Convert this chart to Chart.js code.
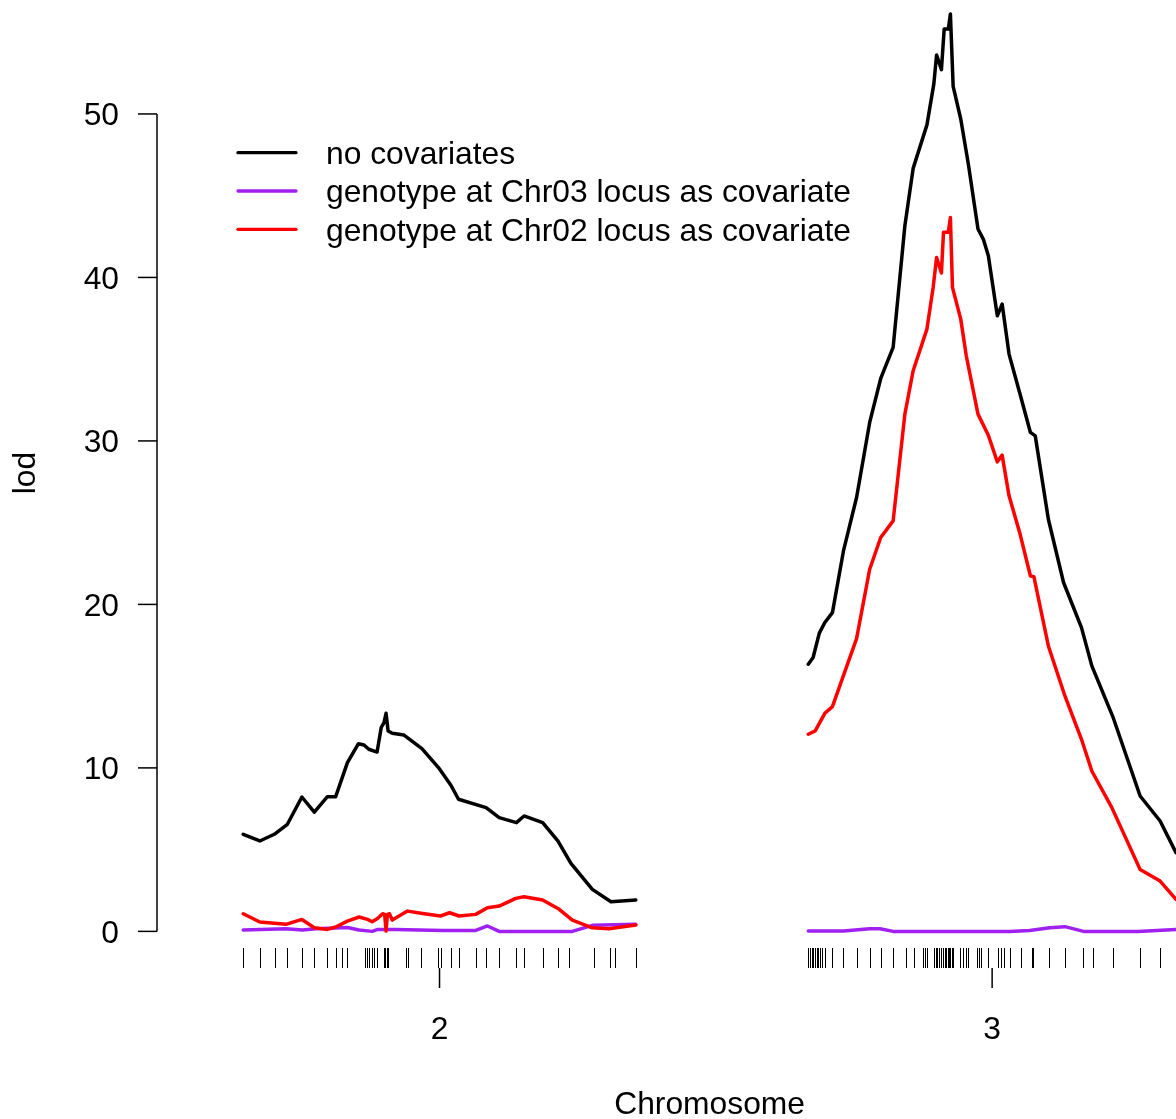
<!DOCTYPE html>
<html>
<head>
<meta charset="utf-8">
<title>LOD profile, chromosomes 2 and 3</title>
<script src="https://cdn.jsdelivr.net/npm/chart.js@4.4.1/dist/chart.umd.min.js"></script>
<style>
  html, body { margin: 0; padding: 0; background: #ffffff; overflow: hidden; }
  #wrap { width: 1176px; height: 1119px; position: relative; }
</style>
</head>
<body>
<div id="wrap"><canvas id="lodChart" width="1176" height="1119"></canvas></div>
<script>
// Chromosomes (cM lengths, gap between them like R/qtl)
const chromosomes = ['2', '3'];
const chrLengths = [56.9, 53.3];
const chrGap = 25;

// Legend / series
const seriesLabels = ['no covariates', 'genotype at Chr03 locus as covariate', 'genotype at Chr02 locus as covariate'];
const seriesColors = ['#000000', '#A020F0', '#FF0000'];

// Y axis ticks
const yTicks = [0, 10, 20, 30, 40, 50];

// Chr 2 - no covariates
const chr2PosNoCov = [0.0, 2.4, 4.5, 6.4, 8.5, 10.3, 12.2, 13.4, 15.1, 16.7, 17.5, 18.2, 19.4, 20.0, 20.4, 20.7, 21.0, 21.6, 23.3, 25.9, 28.3, 30.1, 31.2, 35.2, 37.1, 39.6, 40.7, 43.4, 45.6, 47.5, 50.6, 53.3, 56.9];
const chr2LodNoCov = [5.94, 5.53, 5.94, 6.55, 8.22, 7.30, 8.24, 8.24, 10.32, 11.48, 11.40, 11.14, 10.97, 12.47, 12.77, 13.34, 12.26, 12.12, 12.01, 11.18, 10.02, 8.94, 8.08, 7.57, 6.96, 6.65, 7.06, 6.65, 5.53, 4.16, 2.57, 1.81, 1.92];

// Chr 2 - Chr03 locus as covariate
const chr2PosCov3 = [0.0, 6.2, 8.6, 10.5, 15.1, 16.8, 18.7, 19.5, 22.1, 28.9, 33.7, 35.4, 37.1, 47.7, 50.6, 56.9];
const chr2LodCov3 = [0.08, 0.16, 0.08, 0.16, 0.24, 0.08, 0.0, 0.12, 0.12, 0.06, 0.06, 0.33, 0.0, 0.0, 0.37, 0.43];

// Chr 2 - Chr02 locus as covariate
const chr2PosCov2 = [0.0, 2.4, 6.2, 8.5, 10.3, 12.2, 13.4, 15.1, 16.8, 18.0, 18.7, 19.5, 20.2, 20.5, 20.7, 20.9, 21.2, 21.6, 23.8, 26.0, 28.6, 29.9, 31.3, 33.7, 35.4, 37.1, 39.5, 40.7, 43.4, 45.8, 47.7, 50.6, 53.0, 56.9];
const chr2LodCov2 = [1.08, 0.57, 0.43, 0.73, 0.22, 0.12, 0.27, 0.63, 0.88, 0.73, 0.59, 0.80, 1.08, 1.04, 0.02, 1.04, 1.08, 0.69, 1.24, 1.10, 0.94, 1.14, 0.94, 1.04, 1.45, 1.55, 2.02, 2.12, 1.92, 1.35, 0.69, 0.22, 0.16, 0.39];

// Chr 3 - no covariates
const chr3PosNoCov = [0.0, 0.7, 1.6, 2.4, 3.5, 5.1, 7.0, 8.9, 10.5, 12.3, 14.0, 15.2, 17.2, 18.2, 18.6, 19.3, 19.7, 20.3, 20.6, 21.0, 22.1, 23.2, 24.6, 25.4, 26.1, 27.4, 28.1, 29.1, 30.7, 32.2, 32.9, 34.8, 37.0, 39.6, 41.1, 44.2, 48.1, 51.0, 53.3];
const chr3LodNoCov = [16.34, 16.75, 18.24, 18.89, 19.50, 23.27, 26.54, 31.13, 33.82, 35.72, 43.16, 46.67, 49.33, 51.84, 53.61, 52.71, 55.20, 55.20, 56.12, 51.69, 49.69, 46.94, 42.96, 42.31, 41.33, 37.65, 38.37, 35.31, 32.86, 30.52, 30.31, 25.21, 21.34, 18.58, 16.24, 13.07, 8.28, 6.75, 4.81];

// Chr 3 - Chr03 locus as covariate
const chr3PosCov3 = [0.0, 5.1, 8.9, 10.4, 12.3, 29.2, 32.1, 35.0, 37.2, 39.9, 47.8, 53.3];
const chr3LodCov3 = [0.02, 0.02, 0.16, 0.16, 0.0, 0.0, 0.06, 0.22, 0.29, 0.0, 0.0, 0.12];

// Chr 3 - Chr02 locus as covariate
const chr3PosCov2 = [0.0, 1.0, 2.4, 3.5, 7.0, 8.9, 10.5, 12.3, 14.0, 15.2, 17.2, 18.1, 18.6, 19.3, 19.6, 20.3, 20.6, 20.9, 22.1, 22.9, 24.6, 26.1, 27.4, 28.1, 29.1, 30.7, 32.2, 32.7, 34.8, 37.2, 39.6, 41.1, 44.0, 48.1, 51.0, 53.3];
const chr3LodCov2 = [12.06, 12.26, 13.34, 13.75, 17.91, 22.15, 24.09, 25.11, 31.64, 34.29, 36.84, 39.39, 41.22, 40.27, 42.76, 42.76, 43.67, 39.39, 37.45, 35.21, 31.64, 30.35, 28.72, 29.13, 26.64, 24.30, 21.74, 21.70, 17.46, 14.40, 11.75, 9.81, 7.57, 3.79, 3.08, 1.96];

// Marker positions (cM) for the rug
const markers2 = [0, 2.4, 4.6, 6.3, 8.5, 10.2, 12.1, 13.4, 14.3, 15.1, 17.7, 17.9, 18.3, 18.7, 19.0, 19.4, 20.4, 20.6, 20.8, 21.0, 23.6, 23.9, 25.7, 28.3, 28.6, 30.1, 31.3, 33.8, 35.2, 37.1, 39.5, 40.7, 43.4, 45.6, 47.2, 50.9, 53.2, 53.9, 56.9];
const markers3 = [0, 0.25, 0.5, 0.7, 1.0, 1.2, 1.45, 1.7, 2.0, 2.4, 3.5, 5.0, 7.0, 8.9, 10.5, 12.3, 14.2, 15.3, 16.6, 16.9, 17.2, 18.2, 18.5, 18.7, 18.9, 19.2, 19.6, 19.8, 20.0, 20.2, 20.4, 20.6, 20.8, 21.0, 22.0, 22.4, 22.9, 23.2, 24.4, 24.7, 25.1, 26.1, 27.5, 27.9, 28.3, 29.2, 30.8, 32.4, 32.6, 34.9, 37.2, 39.8, 41.2, 44.2, 48.1, 51.0, 53.3];

// Layout helpers
const chrOffsets = [0, chrLengths[0] + chrGap];
const markerSets = [markers2, markers3];
const FONT = '31.8px "Liberation Sans", Arial, Helvetica, sans-serif';

function buildPoints(pos2, lod2, pos3, lod3) {
    const pts = pos2.map((p, i) => ({ x: p + chrOffsets[0], y: lod2[i] }));
    pts.push({ x: chrOffsets[0] + chrLengths[0] + chrGap / 2, y: null });
    pos3.forEach((p, i) => pts.push({ x: p + chrOffsets[1], y: lod3[i] }));
    return pts;
}

const seriesPoints = [
    buildPoints(chr2PosNoCov, chr2LodNoCov, chr3PosNoCov, chr3LodNoCov),
    buildPoints(chr2PosCov3, chr2LodCov3, chr3PosCov3, chr3LodCov3),
    buildPoints(chr2PosCov2, chr2LodCov2, chr3PosCov2, chr3LodCov2)
];
const drawOrder = [3, 2, 1]; // red on top, black underneath

// R-style axes, rug and legend
const rAxesPlugin = {
    id: 'rAxes',
    afterDraw(chart) {
        const ctx = chart.ctx;
        const xs = chart.scales.x;
        const ys = chart.scales.y;
        const left = chart.chartArea.left;
        const bottom = chart.chartArea.bottom;

        ctx.save();
        ctx.strokeStyle = '#000';
        ctx.fillStyle = '#000';
        ctx.font = FONT;
        ctx.lineCap = 'butt';

        // y axis
        ctx.lineWidth = 1.5;
        ctx.beginPath();
        ctx.moveTo(left, ys.getPixelForValue(yTicks[0]));
        ctx.lineTo(left, ys.getPixelForValue(yTicks[yTicks.length - 1]));
        ctx.stroke();
        ctx.textAlign = 'right';
        ctx.textBaseline = 'alphabetic';
        yTicks.forEach(t => {
            const y = ys.getPixelForValue(t);
            ctx.beginPath();
            ctx.moveTo(left - 19, y);
            ctx.lineTo(left, y);
            ctx.stroke();
            ctx.fillText(String(t), left - 38, y + 11.5);
        });

        // y title
        ctx.save();
        ctx.translate(35, 473);
        ctx.rotate(-Math.PI / 2);
        ctx.textAlign = 'center';
        ctx.fillText('lod', 0, 0);
        ctx.restore();

        // marker rug
        ctx.lineWidth = 1;
        markerSets.forEach((set, c) => {
            set.forEach(m => {
                const x = Math.round(xs.getPixelForValue(m + chrOffsets[c])) + 0.5;
                ctx.beginPath();
                ctx.moveTo(x, bottom - 20);
                ctx.lineTo(x, bottom);
                ctx.stroke();
            });
        });

        // chromosome ticks and labels
        ctx.textAlign = 'center';
        chromosomes.forEach((name, c) => {
            const x = xs.getPixelForValue(chrOffsets[c] + chrLengths[c] / 2);
            ctx.lineWidth = 1.5;
            ctx.beginPath();
            ctx.moveTo(x, bottom);
            ctx.lineTo(x, bottom + 20);
            ctx.stroke();
            ctx.fillText(name, x, 1039);
        });

        // x title, centred on the full R plot region
        const fullEnd = chrOffsets[1] + chrLengths[1] + chrGap / 2;
        const xMid = xs.getPixelForValue((-chrGap / 2 + fullEnd) / 2);
        ctx.fillText('Chromosome', xMid, 1114);

        // legend
        ctx.textAlign = 'left';
        ctx.lineCap = 'round';
        seriesLabels.forEach((label, i) => {
            const y = 152.7 + i * 38.3;
            ctx.strokeStyle = seriesColors[i];
            ctx.lineWidth = 3.3;
            ctx.beginPath();
            ctx.moveTo(238, y);
            ctx.lineTo(296, y);
            ctx.stroke();
            ctx.fillText(label, 326, y + 11.3);
        });

        ctx.restore();
    }
};

new Chart(document.getElementById('lodChart').getContext('2d'), {
    type: 'line',
    data: {
        datasets: seriesLabels.map((label, i) => ({
            label: label,
            data: seriesPoints[i],
            borderColor: seriesColors[i],
            backgroundColor: seriesColors[i],
            borderWidth: 3.5,
            pointRadius: 0,
            tension: 0,
            spanGaps: false,
            borderJoinStyle: 'round',
            borderCapStyle: 'round',
            order: drawOrder[i]
        }))
    },
    options: {
        responsive: false,
        animation: false,
        events: [],
        layout: { padding: { left: 157, right: 0, top: 0, bottom: 151 } },
        scales: {
            x: { type: 'linear', display: false, min: -chrGap / 2, max: chrOffsets[1] + chrLengths[1] },
            y: { type: 'linear', display: false, min: -2.24, max: 56.97 }
        },
        plugins: {
            legend: { display: false },
            tooltip: { enabled: false }
        }
    },
    plugins: [rAxesPlugin]
});
</script>
</body>
</html>
